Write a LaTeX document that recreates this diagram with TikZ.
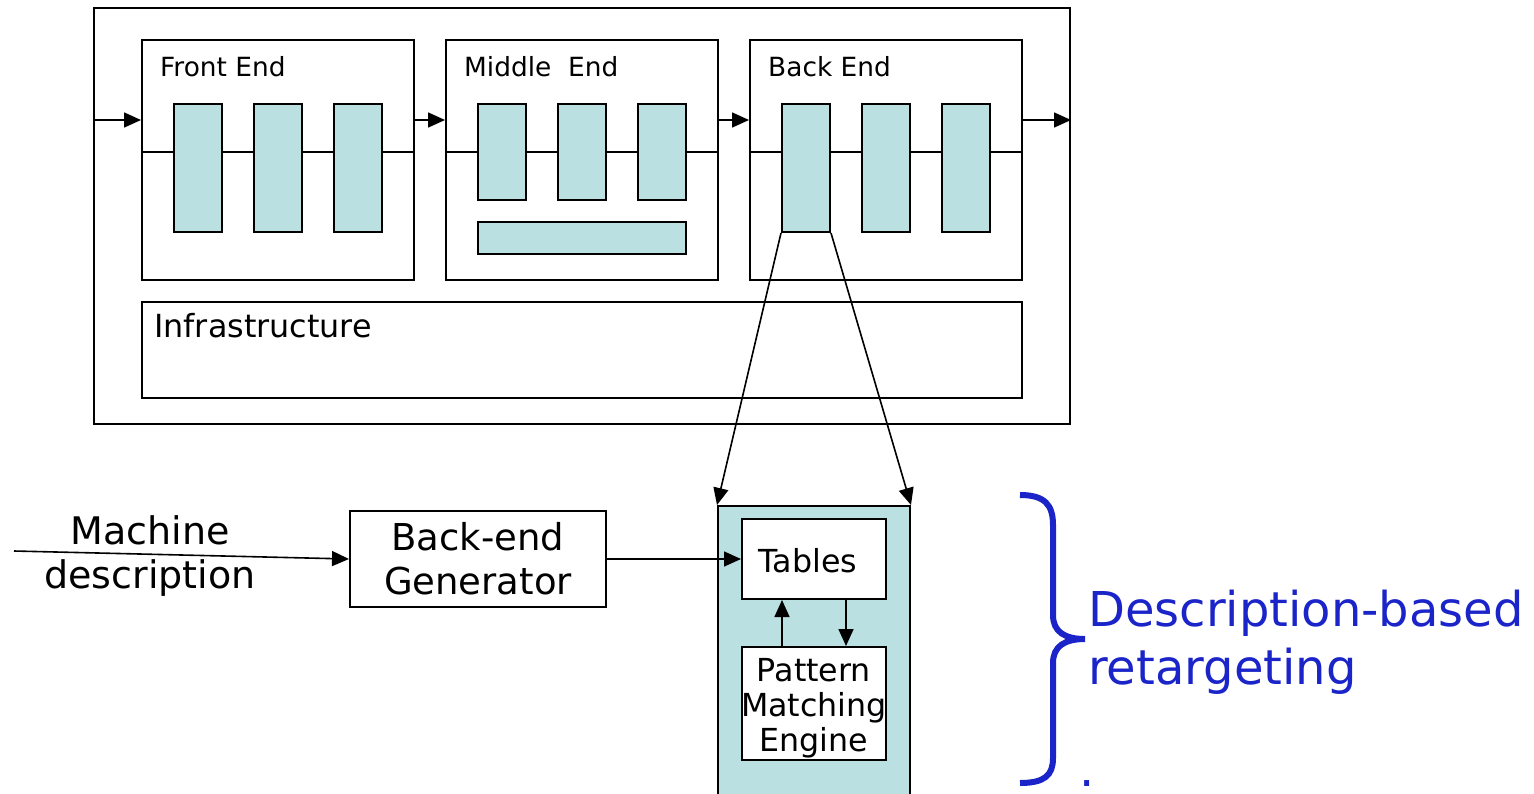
\documentclass[tikz,border=0pt]{standalone}
\usepackage{fontspec}
\setmainfont{DejaVu Sans}
\usetikzlibrary{arrows.meta}
\definecolor{unitfill}{RGB}{186,224,226}
\definecolor{braceblue}{RGB}{26,36,200}
\newcommand{\fsz}[2]{\fontsize{#1}{#2}\selectfont}

\begin{document}
\begin{tikzpicture}[x=1pt,y=-1pt,
  box/.style={draw, line width=2pt, inner sep=0pt},
  unit/.style={box, fill=unitfill, minimum width=48},
  flow/.style={line width=1.6pt, -{Triangle[length=17pt,width=15pt]}},
  title/.style={anchor=base west, inner sep=0pt, font=\fsz{26.4}{31}},
  tagtext/.style={inner sep=0pt, align=center, font=\fsz{31.7}{35}}]
\useasboundingbox (0,0) rectangle (1534,793);
% compiler frame
\node[box, minimum width=976, minimum height=416] (comp) at (582,216) {};
\node[box, minimum width=272, minimum height=240] (fe) at (278,160) {};
\node[box, minimum width=272, minimum height=240] (me) at (582,160) {};
\node[box, minimum width=272, minimum height=240] (be) at (886,160) {};
\node[box, minimum width=880, minimum height=96] (infra) at (582,350) {};
\node[title] (felbl) at (160,76) {Front End};
\node[title] (melbl) at (464,76) {Middle\ \ End};
\node[title] (belbl) at (768,76) {Back End};
\node[title, font=\fsz{31.8}{38}] (inlbl) at (154,337) {Infrastructure};
\foreach \s in {fe,me,be}
  \draw[line width=1.6pt] (\s.west |- 0,152) -- (\s.east |- 0,152);
\foreach \i/\x in {1/198,2/278,3/358}
  \node[unit, minimum height=128] (fe\i) at (\x,168) {};
\foreach \i/\x in {1/502,2/582,3/662}
  \node[unit, minimum height=96] (me\i) at (\x,152) {};
\node[unit, minimum width=208, minimum height=32] (mebar) at (582,238) {};
\foreach \i/\x in {1/806,2/886,3/966}
  \node[unit, minimum height=128] (be\i) at (\x,168) {};
\draw[flow] (comp.west |- 0,120) -- (fe.west |- 0,120);
\draw[flow] (fe.east |- 0,120) -- (me.west |- 0,120);
\draw[flow] (me.east |- 0,120) -- (be.west |- 0,120);
\draw[flow] (be.east |- 0,120) -- (comp.east |- 0,120);
% retargeting part
\node[box, fill=unitfill, minimum width=192, minimum height=300, anchor=north] (lib) at (814,505) {};
\node[box, fill=white, minimum width=144, minimum height=80] (tab) at (814,559) {};
\node[tagtext] (tabtxt) at (808,561) {Tables};
\node[box, fill=white, minimum width=144, minimum height=113] (pme) at (814,703.5) {};
\node[tagtext] (pmetxt) at (814,708) {Pattern\\Matching\\Engine};
\node[box, minimum width=256, minimum height=96, align=center, font=\fsz{37}{44}] (gen) at (478,559) {Back-end\\Generator};
\node[align=center, inner sep=0pt, font=\fsz{38}{44}] (mdesc) at (150,556) {Machine\\description};
\coordinate (mdin) at (14,551);
\draw[flow] (mdin) -- (gen.west);
\draw[flow] (gen) -- (tab);
\draw[flow] (be1.south west) -- (lib.north west);
\draw[flow] (be1.south east) -- (lib.north east);
\draw[flow] ([xshift=-32pt]pme.north) -- ([xshift=-32pt]tab.south);
\draw[flow] ([xshift=32pt]tab.south) -- ([xshift=32pt]pme.north);
% brace
\draw[braceblue, line width=6pt] (1020,495) .. controls (1045,495) and (1053,505) .. (1053,525)
  -- (1053,615) .. controls (1053,632) and (1065,639) .. (1085,639)
  .. controls (1065,639) and (1053,646) .. (1053,663)
  -- (1053,758) .. controls (1053,775) and (1045,783) .. (1020,783);
\node[anchor=north west, align=left, inner sep=0pt, text=braceblue, font=\fsz{48}{58}] (rtgt) at (1088,590)
  {Description-based\\retargeting};
\node[anchor=base west, inner sep=0pt, text=braceblue, font=\fsz{48}{58}] (rdot) at (1079,786) {.};
\end{tikzpicture}
\end{document}
